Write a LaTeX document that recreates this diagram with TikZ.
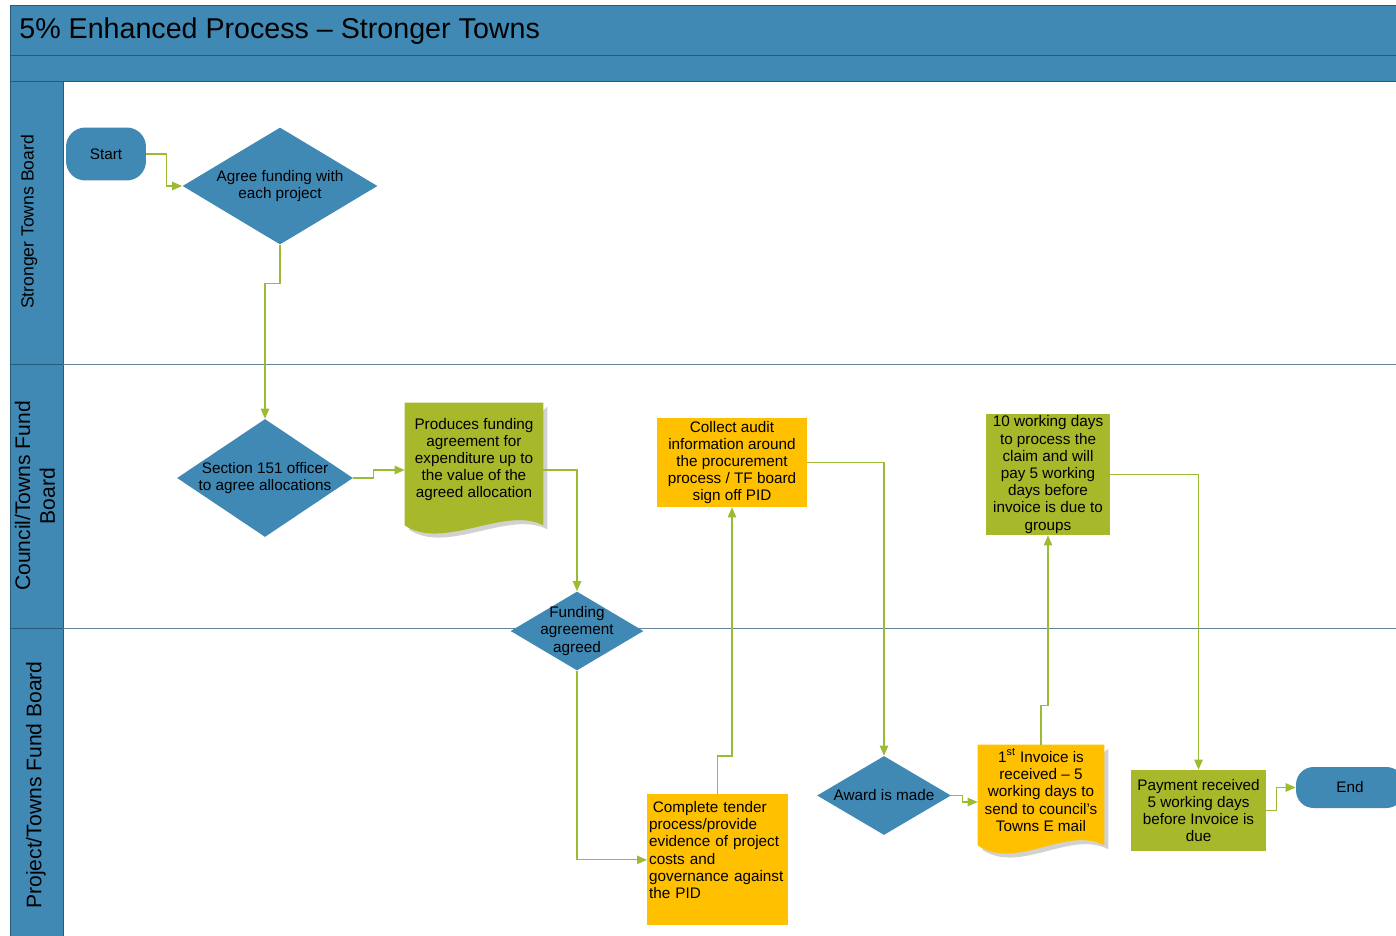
\documentclass[tikz,border=0pt]{standalone}
\usepackage{fontspec}
\setmainfont{Liberation Sans}
\usetikzlibrary{shapes.geometric,arrows.meta,positioning,backgrounds,calc}

\definecolor{laneblue}{RGB}{65,137,181}
\definecolor{laneedge}{RGB}{40,90,125}
\definecolor{olive}{RGB}{167,185,43}
\definecolor{amber}{RGB}{255,192,0}
\definecolor{flowgreen}{RGB}{155,187,50}
\definecolor{sepgray}{RGB}{105,130,155}

\newcommand{\nodefont}{\fontsize{8.7}{9.8}\selectfont}
% document shape with a wavy lower edge
\newcommand{\wavedoc}[2]{%
  \fill[black!18] ([shift={(4,4)}]#1.north east) -- ([shift={(4,4)}]#1.south east)
    .. controls +(-38,-20) and +(38,26) .. ([shift={(4,4)}]#1.south west) -- cycle;
  \fill[#2] (#1.south west) -- (#1.north west) -- (#1.north east) -- (#1.south east)
    .. controls +(-38,-20) and +(38,26) .. (#1.south west) -- cycle;}

\begin{document}
\begin{tikzpicture}[
        x=0.02cm, y=-0.02cm,
        >={Triangle[length=2mm, width=1.7mm]},
        flow/.style={->, draw=flowgreen, line width=0.6pt},
        terminal/.style={rectangle, rounded corners=11pt, fill=laneblue, font=\nodefont, inner sep=0pt},
        decision/.style={diamond, fill=laneblue, font=\nodefont, align=center, inner sep=0pt},
        task/.style={rectangle, font=\nodefont, align=center, inner sep=1pt},
        docbox/.style={rectangle, font=\nodefont, align=center, inner sep=1pt},
        lanelabel/.style={rotate=90, align=center}
        ]

        \useasboundingbox (0,0) rectangle (1396,936);

        % Lanes
        \fill[laneblue] (10,5) rectangle (1396,81);
        \fill[laneblue] (10,81) rectangle (63,936);
        \draw[laneedge] (10,5) -- (1396,5);
        \draw[laneedge] (10,55) -- (1396,55);
        \draw[laneedge] (10,81) -- (1396,81);
        \draw[laneedge] (10,5) -- (10,936);
        \draw[laneedge] (63,81) -- (63,936);
        \draw[laneedge] (10,364) -- (63,364);
        \draw[laneedge] (10,628) -- (63,628);
        \draw[sepgray] (63,364) -- (1396,364);
        \draw[sepgray] (63,628) -- (1396,628);

        \node[anchor=west, font=\fontsize{16.3}{19}\selectfont, inner sep=0pt] (title) at (19,31)
        {5\% Enhanced Process -- Stronger Towns};

        \node[lanelabel, font=\fontsize{10}{12}\selectfont] (laneboard) at (29,222) {Stronger Towns Board};
        \node[lanelabel, font=\fontsize{12}{14}\selectfont] (lanecouncil) at (35,496) {Council/Towns Fund\\Board};
        \node[lanelabel, font=\fontsize{12}{14}\selectfont] (laneproject) at (36,785) {Project/Towns Fund Board};

        % Steps
        \node[terminal, minimum width=1.6cm, minimum height=1.06cm] (start) at (106,154) {Start};

        \node[decision, aspect=1.67, minimum width=3.9cm, minimum height=2.34cm] (agree) at (280,186)
        {Agree funding with\\each project};

        \node[decision, aspect=1.49, minimum width=3.52cm, minimum height=2.36cm, inner sep=-2pt] (section) at (265,478)
        {Section 151 officer\\to agree allocations};

        \node[docbox, minimum width=2.76cm, minimum height=2.44cm, text height=1.42cm] (fundingdoc) at (474,464)
        {Produces funding\\agreement for\\expenditure up to\\the value of the\\agreed allocation};

        \node[decision, aspect=1.68, minimum width=2.66cm, minimum height=1.58cm, inner sep=-5pt] (agreed) at (577,631)
        {Funding\\agreement\\agreed};

        \node[task, fill=amber, anchor=north west, align=left, text width=2.74cm,
        text height=0.29cm, text depth=2.19cm, inner ysep=2pt] (tender) at (647,794)
        {\hspace*{0.25em}Complete tender\\process/provide\\evidence of project\\costs and\\governance against\\the PID};

        \node[task, fill=amber, minimum width=3cm, minimum height=1.78cm] (audit) at (732,462.5)
        {Collect audit\\information around\\the procurement\\process / TF board\\sign off PID};

        \node[decision, aspect=1.7, minimum width=2.68cm, minimum height=1.58cm] (award) at (884,795.5) {Award is made};

        \node[docbox, minimum width=2.52cm, minimum height=2cm, text height=1.46cm] (invoice) at (1041,795)
        {1\textsuperscript{st} Invoice is\\received -- 5\\working days to\\send to council's\\Towns E mail};

        \node[task, fill=olive, minimum width=2.48cm, minimum height=2.3cm] (claim) at (1048,474.5)
        {10 working days\\to process the\\claim and will\\pay 5 working\\days before\\invoice is due to\\groups};

        \node[task, fill=olive, minimum width=2.7cm, minimum height=1.62cm] (payment) at (1198.5,810.5)
        {Payment received\\5 working days\\before Invoice is\\due};

        \node[terminal, minimum width=2.16cm, minimum height=0.82cm, rounded corners=10pt] (stop) at (1350,787.5) {End};

        \begin{scope}[on background layer]
          \wavedoc{fundingdoc}{olive}
          \wavedoc{invoice}{amber}
        \end{scope}

        % Edges
        \draw[flow] (start.east) -- ++(20,0) |- (agree.west);
        \draw[flow] (agree.south) -- ++(0,39) -| (section.north);
        \draw[flow] (section.east) -- ++(20,0) |- ($(fundingdoc.west)+(0,6)$);
        \draw[flow] ($(fundingdoc.east)+(0,6)$) -| (agreed.north);
        \draw[flow] (agreed.south) |- (tender.west);
        \draw[flow] (tender.north) -- ++(0,-38) -| (audit.south);
        \draw[flow] (audit.east) -| (award.north);
        \draw[flow] (award.east) -- ++(11,0) |- ($(invoice.west)+(0,7)$);
        \draw[flow] (invoice.north) -- ++(0,-39) -| (claim.south);
        \draw[flow] (claim.east) -| (payment.north);
        \draw[flow] (payment.east) -- ++(10,0) |- (stop.west);

\end{tikzpicture}
\end{document}
